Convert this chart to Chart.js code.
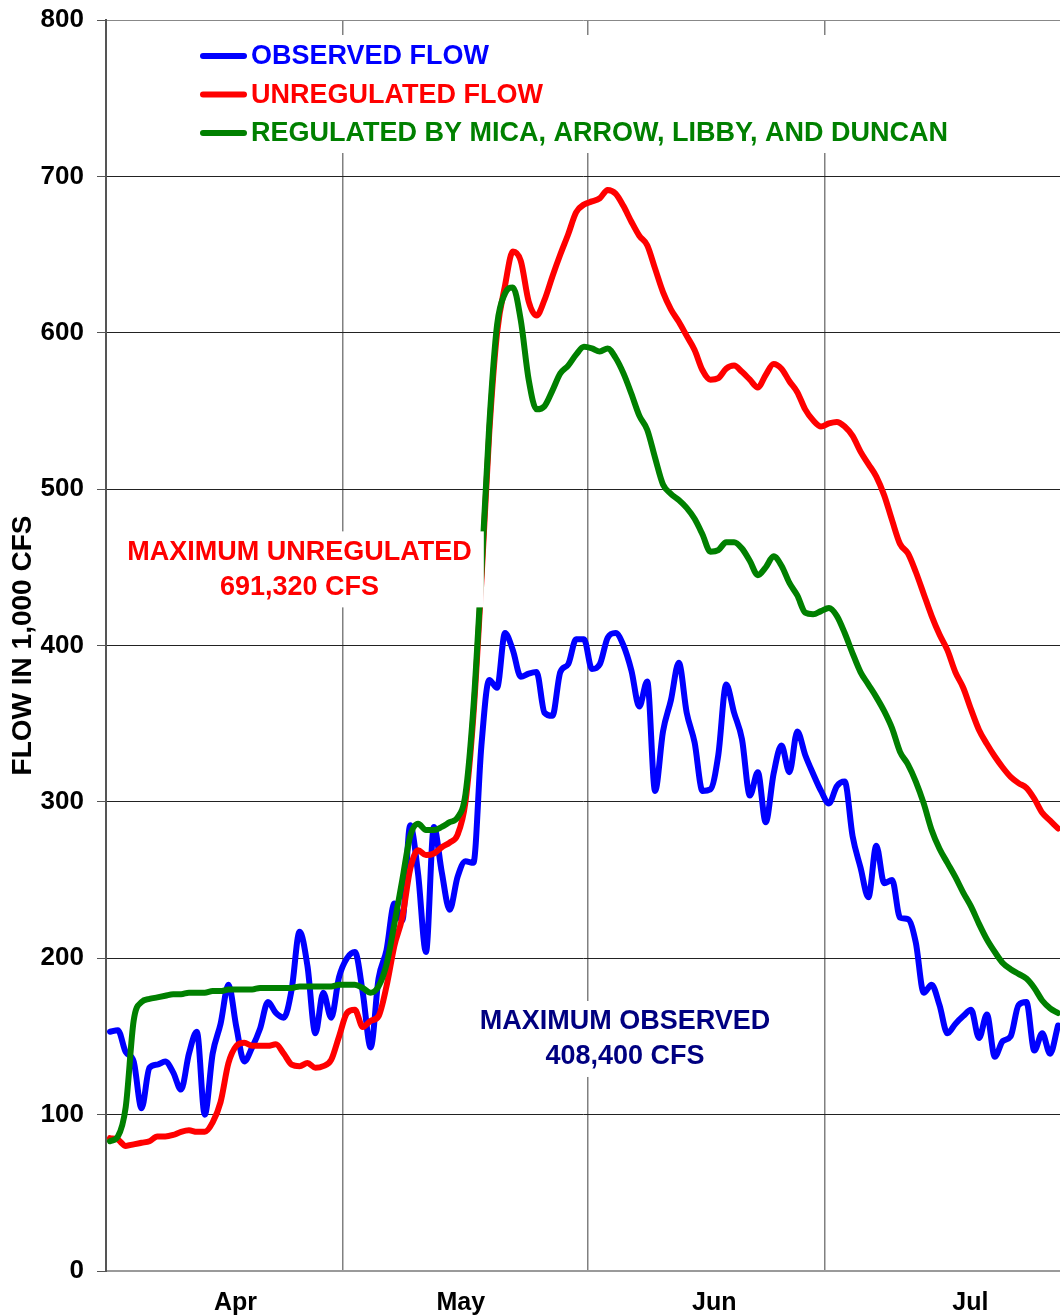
<!DOCTYPE html>
<html>
<head>
<meta charset="utf-8">
<script src="https://cdn.jsdelivr.net/npm/chart.js@4.4.1/dist/chart.umd.min.js"></script>
<style>
  html, body { margin: 0; padding: 0; background: #fff; }
  #wrap { width: 1060px; height: 1316px; position: relative; }
</style>
</head>
<body>
<div id="wrap"><canvas id="flowChart"></canvas></div>
<script>
// ---- Data: daily flow, 1,000 cfs, day 0 = Apr 1 ----
const days = Array.from({ length: 121 }, (_, i) => i);

const observed = [
  153,154,140,134,104,130,132,134,127,116,139,153,100,139,158,183,156,134,143,155,
  172,165,162,180,217,195,152,178,162,188,200,204,178,143,187,205,235,224,285,254,
  204,284,255,231,252,262,261,335,378,373,408,397,380,382,383,357,355,383,388,404,
  404,385,388,405,408,400,384,361,377,307,345,365,389,357,338,307,308,330,375,357,
  340,304,319,287,318,336,319,345,330,318,307,299,310,313,278,258,239,272,248,250,
  226,225,210,178,183,170,152,158,163,167,149,164,137,147,150,170,172,141,152,139,
  157
];

const unregulated = [
  85,84,80,81,82,83,86,86,87,89,90,89,89,95,108,133,144,146,144,144,
  144,145,139,132,131,133,130,131,135,150,165,167,156,160,163,182,208,226,257,269,
  266,267,271,274,279,300,355,440,535,600,630,652,646,620,611,621,636,650,663,677,
  682,684,686,691.32,689,681,671,662,656,641,626,615,607,598,589,576,570,571,577,579,
  575,570,565,573,580,577,569,562,551,544,540,542,543,540,534,524,516,508,496,480,
  465,459,447,433,419,407,397,383,373,359,346,337,329,322,316,312,309,302,293,288,
  283
];

const regulated = [
  83,86,105,160,172,174,175,176,177,177,178,178,178,179,179,180,180,180,180,181,
  181,181,181,181,182,182,182,182,182,183,183,183,181,178,182,196,222,250,278,286,
  282,282,284,287,290,305,360,445,540,605,625,629,608,570,551,553,563,574,579,586,
  591,590,588,590,584,574,561,547,538,520,503,497,493,488,481,471,460,461,466,466,
  462,454,445,450,457,451,440,432,421,420,422,424,419,408,395,383,375,367,358,347,
  332,324,313,299,282,270,261,252,242,233,222,212,204,197,193,190,187,181,173,168,
  165
];

// month boundaries (grid) and month label positions, in days
const monthStarts = [-0.5, 29.5, 60.5, 90.5];
const monthLabels = ['Apr', 'May', 'Jun', 'Jul'];
const monthLabelDays = [15.9, 44.4, 76.5, 108.9];

const FONT = '"Liberation Sans", Arial, sans-serif';

const toPoints = arr => days.map((d, i) => ({ x: d, y: arr[i] }));

// ---- legend drawn inside the plot, on a white box ----
const insideLegend = {
  id: 'insideLegend',
  afterDatasetsDraw(chart) {
    const { ctx, chartArea: a } = chart;
    ctx.save();
    ctx.fillStyle = '#fff';
    ctx.fillRect(a.left + 84, a.top + 15, 780, 118);
    ctx.font = 'bold 27px ' + FONT;
    ctx.textBaseline = 'middle';
    ctx.textAlign = 'left';
    chart.data.datasets.forEach((ds, row) => {
      const y = a.top + 36 + row * 38.5;
      ctx.strokeStyle = ds.borderColor;
      ctx.lineWidth = 6;
      ctx.lineCap = 'round';
      ctx.beginPath();
      ctx.moveTo(a.left + 97, y);
      ctx.lineTo(a.left + 138, y);
      ctx.stroke();
      ctx.fillStyle = ds.borderColor;
      ctx.fillText(ds.label, a.left + 145, y + 1);
    });
    ctx.restore();
  }
};

// ---- max-flow notes, anchored to data coords ----
const notes = [
  { text: ['MAXIMUM UNREGULATED', '691,320 CFS'], color: '#ff0000', day: 24.0, value: 449 },
  { text: ['MAXIMUM OBSERVED', '408,400 CFS'], color: '#000080', day: 65.2, value: 148.7 },
];

const notePlugin = {
  id: 'notes',
  afterDatasetsDraw(chart) {
    const { ctx, scales: { x, y } } = chart;
    ctx.save();
    ctx.font = 'bold 27px ' + FONT;
    ctx.textAlign = 'center';
    ctx.textBaseline = 'middle';
    notes.forEach(n => {
      const cx = x.getPixelForValue(n.day);
      const cy = y.getPixelForValue(n.value);
      const w = Math.max(...n.text.map(t => ctx.measureText(t).width));
      const lh = 35;
      const top = cy - lh / 2 - 20;
      const bottom = cy + lh / 2 + 21;
      ctx.fillStyle = '#fff';
      ctx.fillRect(cx - w / 2 - 12, top, w + 24, bottom - top);
      ctx.fillStyle = n.color;
      n.text.forEach((t, k) => ctx.fillText(t, cx, cy + (k - 0.5) * lh + 1));
    });
    ctx.restore();
  }
};

const lineStyle = {
  borderWidth: 6, pointRadius: 0, fill: false,
  cubicInterpolationMode: 'monotone',
  borderCapStyle: 'round', borderJoinStyle: 'round',
};

new Chart(document.getElementById('flowChart'), {
  type: 'line',
  data: {
    datasets: [
      { label: 'OBSERVED FLOW', data: toPoints(observed), borderColor: '#0000ff', order: 2, ...lineStyle },
      { label: 'UNREGULATED FLOW', data: toPoints(unregulated), borderColor: '#ff0000', order: 1, ...lineStyle },
      { label: 'REGULATED BY MICA, ARROW, LIBBY, AND DUNCAN', data: toPoints(regulated), borderColor: '#008000', order: 0, ...lineStyle },
    ]
  },
  options: {
    responsive: true, maintainAspectRatio: false, animation: false,
    layout: { padding: { top: 20, right: 0, left: 0, bottom: 0 } },
    plugins: { legend: { display: false }, tooltip: { enabled: false } },
    scales: {
      x: {
        type: 'linear', min: -0.5, max: 120.25,
        afterBuildTicks: s => {
          s.ticks = monthStarts.concat(monthLabelDays).sort((a, b) => a - b).map(v => ({ value: v }));
        },
        afterFit: s => { s.height = 45; s.paddingLeft = 0; s.paddingRight = 0; },
        ticks: {
          autoSkip: false, maxRotation: 0, padding: 17, color: '#000',
          font: { family: FONT, size: 25, weight: 'bold' },
          callback: v => {
            const k = monthLabelDays.indexOf(v);
            return k >= 0 ? monthLabels[k] : '';
          }
        },
        grid: {
          drawTicks: false, lineWidth: 1.5,
          color: ctx => (ctx.tick && monthStarts.includes(ctx.tick.value) && ctx.tick.value > 0) ? '#808080' : 'rgba(0,0,0,0)'
        },
        border: { color: '#9a9a9a', width: 2 }
      },
      y: {
        min: 0, max: 800,
        afterFit: s => { s.width = 106; s.paddingTop = 0; s.paddingBottom = 0; },
        ticks: {
          stepSize: 100, padding: 13, color: '#000',
          font: { family: FONT, size: 26, weight: 'bold' }
        },
        grid: {
          tickLength: 9, tickColor: '#555', lineWidth: 1,
          color: ctx => ctx.tick.value === 800 ? '#888' : (ctx.tick.value === 0 ? 'rgba(0,0,0,0)' : '#222')
        },
        border: { color: '#555', width: 2 },
        title: {
          display: true, text: 'FLOW IN 1,000 CFS', color: '#000',
          font: { family: FONT, size: 28, weight: 'bold' },
          padding: { top: 6, bottom: 0 }
        }
      }
    }
  },
  plugins: [notePlugin, insideLegend]
});
</script>
</body>
</html>
